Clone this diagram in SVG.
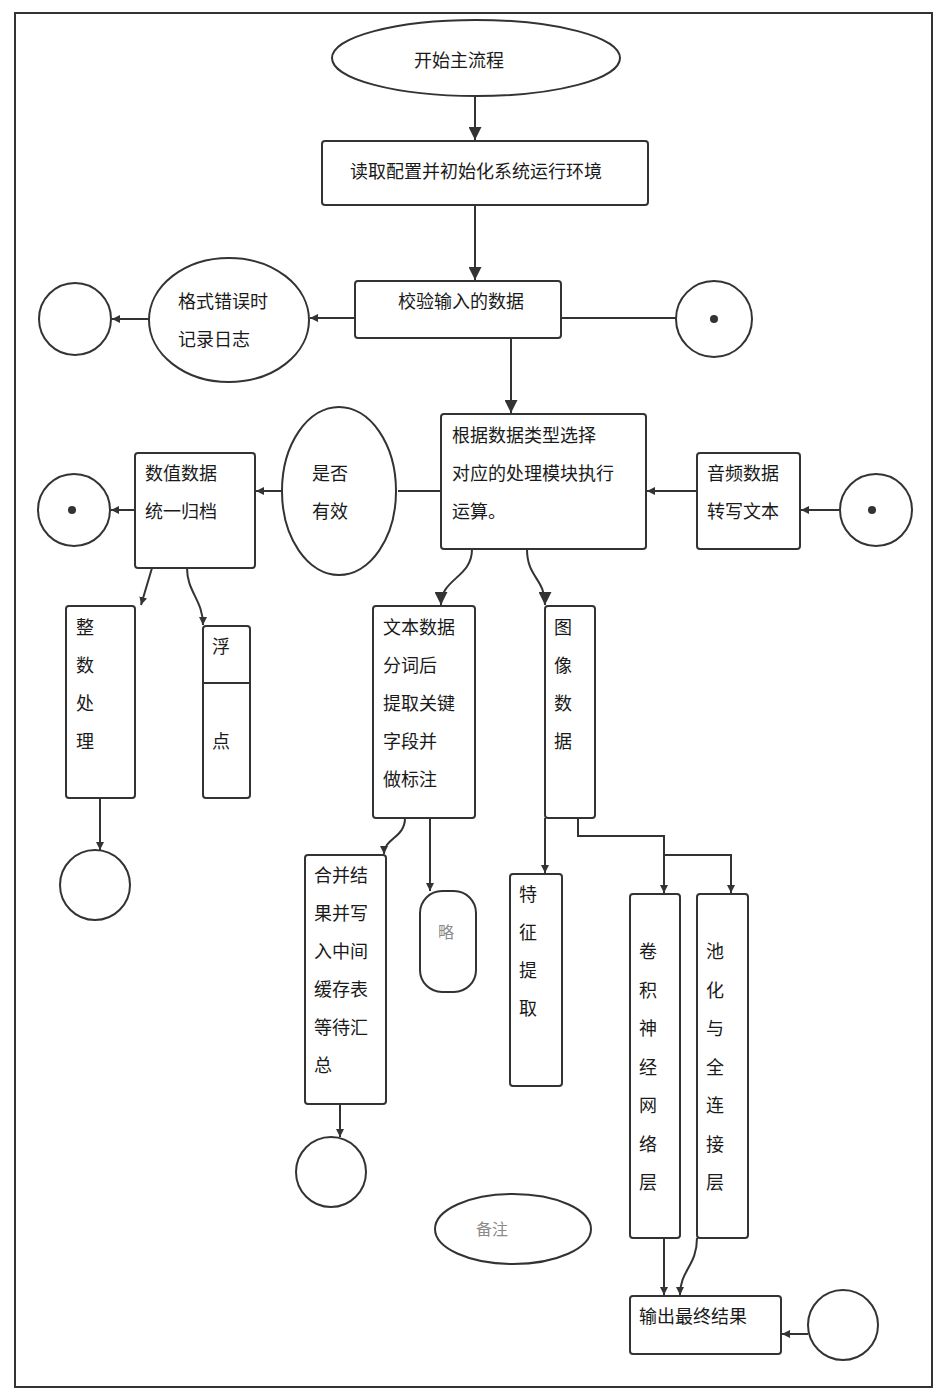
<svg xmlns="http://www.w3.org/2000/svg" width="939" height="1396" viewBox="0 0 939 1396">
<style>
.f{fill:none;stroke:#333;stroke-width:2}
.n{fill:#fff;stroke:#333;stroke-width:2}
.c{fill:none;stroke:#333;stroke-width:2}
.t{font-family:"Noto Sans CJK SC","Noto Sans",sans-serif;font-size:18px;fill:#1a1a1a}
.g{font-family:"Noto Sans CJK SC","Noto Sans",sans-serif;font-size:16px;fill:#8a8a8a}
.m{text-anchor:middle}
.d{fill:#333}
</style>
<defs>
<marker id="a" viewBox="0 0 10 10" refX="10" refY="5" markerWidth="13" markerHeight="13" orient="auto" markerUnits="userSpaceOnUse"><path d="M0,0 L10,5 L0,10 z" fill="#333"/></marker>
<marker id="s" viewBox="0 0 10 10" refX="10" refY="5" markerWidth="8" markerHeight="8" orient="auto" markerUnits="userSpaceOnUse"><path d="M0,0 L10,5 L0,10 z" fill="#333"/></marker>
</defs>
<rect x="0" y="0" width="939" height="1396" fill="#fff"/>
<rect id="frame" class="f" x="15" y="13" width="917" height="1374"/>

<g id="connectors">
<path class="c" d="M475 96 V140" marker-end="url(#a)"/>
<path class="c" d="M475 205 V280" marker-end="url(#a)"/>
<path class="c" d="M511 338 V413" marker-end="url(#a)"/>
<path class="c" d="M472 549 C472 578 441 578 441 605" marker-end="url(#a)"/>
<path class="c" d="M527 549 C527 578 545 578 545 605" marker-end="url(#a)"/>
<path class="c" d="M355 318 H310" marker-end="url(#s)"/>
<path class="c" d="M149 319 H112" marker-end="url(#s)"/>
<path class="c" d="M561 318 H676"/>
<path class="c" d="M441 491 H398"/>
<path class="c" d="M282 491 H256" marker-end="url(#s)"/>
<path class="c" d="M135 510 H111" marker-end="url(#s)"/>
<path class="c" d="M697 491 H647" marker-end="url(#s)"/>
<path class="c" d="M840 510 H801" marker-end="url(#s)"/>
<path class="c" d="M152 568 L141 605" marker-end="url(#s)"/>
<path class="c" d="M187 568 C187 592 203 600 203 625" marker-end="url(#s)"/>
<path class="c" d="M100 798 V850" marker-end="url(#s)"/>
<path class="c" d="M405 818 C405 838 384 838 384 854" marker-end="url(#s)"/>
<path class="c" d="M430 818 V891" marker-end="url(#s)"/>
<path class="c" d="M340 1104 V1137" marker-end="url(#s)"/>
<path class="c" d="M545 818 V873" marker-end="url(#s)"/>
<path class="c" d="M578 818 V836 H664 V893" marker-end="url(#s)"/>
<path class="c" d="M664 836 V855 H731 V893" marker-end="url(#s)"/>
<path class="c" d="M664 1238 V1295" marker-end="url(#s)"/>
<path class="c" d="M697 1238 C697 1266 680 1270 680 1295" marker-end="url(#s)"/>
<path class="c" d="M808 1334 H782" marker-end="url(#s)"/>
</g>

<g id="n1"><ellipse class="n" cx="476" cy="58" rx="144" ry="38"/><text class="t m" x="459" y="67">开始主流程</text></g>
<g id="n2"><rect class="n" x="322" y="141" width="326" height="64" rx="3"/><text class="t m" x="476" y="178">读取配置并初始化系统运行环境</text></g>
<g id="n3"><rect class="n" x="355" y="281" width="206" height="57" rx="3"/><text class="t" x="398" y="308">校验输入的数据</text></g>
<g id="n4"><ellipse class="n" cx="229" cy="320" rx="80" ry="62"/><text class="t" x="178" y="308">格式错误时</text><text class="t" x="178" y="346">记录日志</text></g>
<g id="n5"><circle class="n" cx="75" cy="319" r="36"/></g>
<g id="n6"><circle class="n" cx="714" cy="319" r="38"/><circle class="d" cx="714" cy="319" r="4"/></g>

<g id="n7"><rect class="n" x="441" y="414" width="205" height="135" rx="3"/><text class="t" x="452" y="442">根据数据类型选择</text><text class="t" x="452" y="480">对应的处理模块执行</text><text class="t" x="452" y="518">运算。</text></g>
<g id="n10"><rect class="n" x="135" y="453" width="120" height="115" rx="3"/><text class="t" x="145" y="480">数值数据</text><text class="t" x="145" y="518">统一归档</text></g>
<g id="n11"><ellipse class="n" cx="339" cy="491" rx="57" ry="84"/><text class="t m" x="330" y="480">是否</text><text class="t m" x="330" y="518">有效</text></g>
<g id="n12"><circle class="n" cx="74" cy="510" r="36"/><circle class="d" cx="72" cy="510" r="4"/></g>
<g id="n13"><rect class="n" x="697" y="453" width="103" height="96" rx="3"/><text class="t" x="707" y="480">音频数据</text><text class="t" x="707" y="518">转写文本</text></g>
<g id="n14"><circle class="n" cx="876" cy="510" r="36"/><circle class="d" cx="872" cy="510" r="4"/></g>

<g id="n8"><rect class="n" x="373" y="606" width="102" height="212" rx="3"/><text class="t" x="383" y="634">文本数据</text><text class="t" x="383" y="672">分词后</text><text class="t" x="383" y="710">提取关键</text><text class="t" x="383" y="748">字段并</text><text class="t" x="383" y="786">做标注</text></g>
<g id="n9"><rect class="n" x="545" y="606" width="50" height="212" rx="3"/><text class="t" x="554" y="634">图</text><text class="t" x="554" y="672">像</text><text class="t" x="554" y="710">数</text><text class="t" x="554" y="748">据</text></g>
<g id="n15"><rect class="n" x="66" y="606" width="69" height="192" rx="3"/><text class="t" x="76" y="634">整</text><text class="t" x="76" y="672">数</text><text class="t" x="76" y="710">处</text><text class="t" x="76" y="748">理</text></g>
<g id="n16"><rect class="n" x="203" y="626" width="47" height="172" rx="3"/><line class="c" x1="203" y1="683" x2="250" y2="683"/><text class="t" x="212" y="653">浮</text><text class="t" x="212" y="748">点</text></g>
<g id="n17"><circle class="n" cx="95" cy="885" r="35"/></g>

<g id="n18"><rect class="n" x="305" y="855" width="81" height="249" rx="3"/><text class="t" x="314" y="882">合并结</text><text class="t" x="314" y="920">果并写</text><text class="t" x="314" y="958">入中间</text><text class="t" x="314" y="996">缓存表</text><text class="t" x="314" y="1034">等待汇</text><text class="t" x="314" y="1072">总</text></g>
<g id="n19"><rect class="n" x="420" y="891" width="56" height="101" rx="22"/><text class="g m" x="446" y="938">略</text></g>
<g id="n20"><circle class="n" cx="331" cy="1172" r="35"/></g>
<g id="n21"><rect class="n" x="510" y="874" width="52" height="212" rx="3"/><text class="t" x="519" y="901">特</text><text class="t" x="519" y="939">征</text><text class="t" x="519" y="977">提</text><text class="t" x="519" y="1015">取</text></g>
<g id="n22a"><rect class="n" x="630" y="894" width="50" height="344" rx="3"/><text class="t" x="639" y="958">卷</text><text class="t" x="639" y="997">积</text><text class="t" x="639" y="1035">神</text><text class="t" x="639" y="1074">经</text><text class="t" x="639" y="1112">网</text><text class="t" x="639" y="1151">络</text><text class="t" x="639" y="1189">层</text></g>
<g id="n22b"><rect class="n" x="697" y="894" width="51" height="344" rx="3"/><text class="t" x="706" y="958">池</text><text class="t" x="706" y="997">化</text><text class="t" x="706" y="1035">与</text><text class="t" x="706" y="1074">全</text><text class="t" x="706" y="1112">连</text><text class="t" x="706" y="1151">接</text><text class="t" x="706" y="1189">层</text></g>
<g id="n23"><ellipse class="n" cx="513" cy="1229" rx="78" ry="35"/><text class="g m" x="492" y="1235">备注</text></g>
<g id="n24"><rect class="n" x="630" y="1296" width="151" height="58" rx="3"/><text class="t" x="639" y="1323">输出最终结果</text></g>
<g id="n25"><circle class="n" cx="843" cy="1325" r="35"/></g>
</svg>
